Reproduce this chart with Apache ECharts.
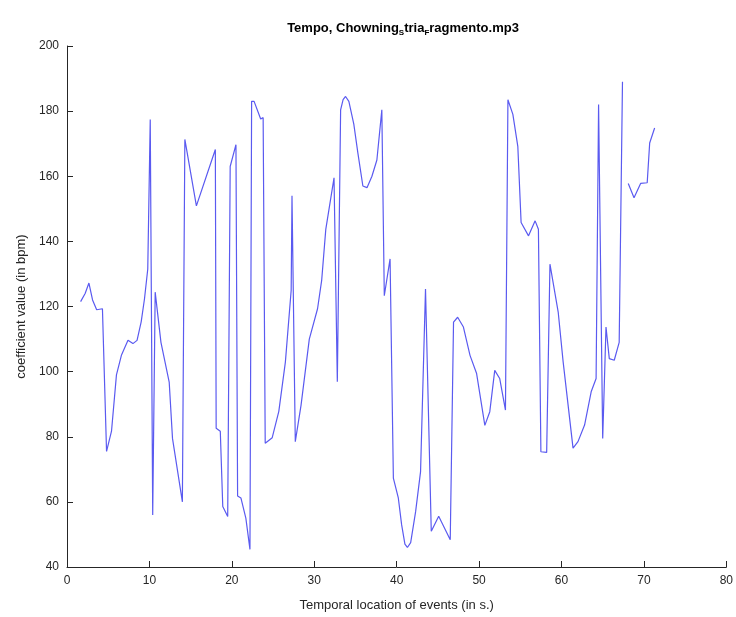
<!DOCTYPE html>
<html>
<head>
<meta charset="UTF-8">
<title>Tempo</title>
<style>
  html, body { margin: 0; padding: 0; background: #fff; }
  #main { width: 736px; height: 617px; }
</style>
</head>
<body>
<div id="main"></div>
<script src="https://cdn.jsdelivr.net/npm/echarts@6/dist/echarts.min.js"></script>
<script>
// event times (s) and tempo values (bpm); null = gap
var times = [1.65, 2.2, 2.66, 3.1, 3.6, 4.3, 4.8, 5.4, 6.0, 6.6, 7.4, 8.0, 8.5, 9.0, 9.4, 9.8, 10.1, 10.4, 10.7,
  11.4, 12.4, 12.8, 14.0, 14.3, 15.7, 18.0, 18.1, 18.6, 18.9, 19.5, 19.8, 20.5, 20.7, 21.1, 21.7, 22.2,
  22.4, 22.7, 23.5, 23.8, 24.05, 24.9, 25.7, 26.5, 27.2, 27.3, 27.7, 28.4, 29.4, 30.4, 30.9, 31.4, 32.4,
  32.8, 33.2, 33.5, 33.8, 34.2, 34.8, 35.3, 35.9, 36.4, 37.0, 37.6, 38.2, 38.5, 39.2, 39.6, 40.2, 40.6,
  41.0, 41.3, 41.7, 42.3, 42.9, 43.5, 44.2, 45.1, 46.5, 46.9, 47.4, 48.1, 48.9, 49.7, 50.7, 51.3, 51.9,
  52.5, 53.2, 53.5, 54.1, 54.7, 55.1, 56.0, 56.8, 57.2, 57.5, 58.2, 58.6, 59.6, 60.2, 61.4, 62.0, 62.8,
  63.6, 64.2, 64.5, 65.0, 65.4, 65.8, 66.4, 67.0, 67.4, 67.7, 68.1, 68.8, 69.6, 70.4, 70.7, 71.3];
var tempo = [121.5, 124, 127.2, 122, 119, 119.3, 75.5, 81.7, 99, 105, 109.6, 108.6, 109.6, 115.3, 122.3, 131.5, 177.4, 56, 124.4,
  109, 96.8, 79.5, 60, 171.3, 150.9, 168.2, 82.6, 81.7, 58.6, 55.5, 163, 169.7, 61.8, 61.2, 55, 45.4,
  183, 183, 177.6, 178, 78, 79.7, 87.8, 103, 125, 154, 78.5, 89.7, 110, 119.3, 128, 143.7, 159.5,
  96.9, 180.4, 183.5, 184.5, 183, 176, 167, 157, 156.5, 160, 165, 180.4, 123.3, 134.6, 67.3, 61.2, 53,
  47, 46, 47.5, 57, 69.3, 125.4, 51, 55.6, 48.4, 115.2, 116.7, 113.7, 105, 99.4, 83.5, 87.7, 100.4,
  97.9, 88.2, 183.5, 179, 169.2, 145.8, 141.7, 146.3, 143.7, 75.4, 75.2, 133, 118.3, 103, 76.5, 78.5, 83.6,
  93.8, 97.9, 182, 79.5, 113.7, 104, 103.5, 109, 189, null, 157.8, 153.4, 157.8, 158, 170.2, 174.8];
var xTicks = [0, 10, 20, 30, 40, 50, 60, 70, 80];
var yTicks = [40, 60, 80, 100, 120, 140, 160, 180, 200];

var points = times.map(function (t, i) {
  return [t, tempo[i] === null ? '-' : tempo[i]];
});

var chart = echarts.init(document.getElementById('main'));
var axisColor = '#262626';
chart.setOption({
  animation: false,
  backgroundColor: '#fff',
  title: {
    text: 'Tempo, Chowning{sub|S}tria{sub|F}ragmento.mp3',
    left: 398,
    textAlign: 'center',
    top: 14,
    textStyle: {
      fontFamily: 'Liberation Sans',
      fontSize: 13,
      fontWeight: 'bold',
      color: '#000',
      rich: {
        sub: { fontSize: 8, fontWeight: 'bold', color: '#000', padding: [10, 0, 0, 0] }
      }
    }
  },
  grid: { left: 67, right: 7, top: 46, bottom: 48 },
  xAxis: {
    type: 'value',
    min: xTicks[0],
    max: xTicks[xTicks.length - 1],
    interval: 10,
    name: 'Temporal location of events (in s.)',
    nameLocation: 'middle',
    nameGap: 32,
    nameTextStyle: { fontFamily: 'Liberation Sans', fontSize: 13, color: axisColor },
    axisLine: { lineStyle: { color: axisColor, width: 1 } },
    axisTick: { inside: true, length: 6, lineStyle: { color: axisColor } },
    axisLabel: { fontFamily: 'Liberation Sans', fontSize: 12, color: axisColor, margin: 8 },
    splitLine: { show: false }
  },
  yAxis: {
    type: 'value',
    min: yTicks[0],
    max: yTicks[yTicks.length - 1],
    interval: 20,
    name: 'coefficient value (in bpm)',
    nameLocation: 'middle',
    nameGap: 37,
    nameTextStyle: { fontFamily: 'Liberation Sans', fontSize: 13, color: axisColor },
    axisLine: { show: true, lineStyle: { color: axisColor, width: 1 } },
    axisTick: { show: true, inside: true, length: 6, lineStyle: { color: axisColor } },
    axisLabel: { fontFamily: 'Liberation Sans', fontSize: 12, color: axisColor, margin: 8 },
    splitLine: { show: false }
  },
  series: [{
    type: 'line',
    data: points,
    showSymbol: false,
    connectNulls: false,
    lineStyle: { color: '#5a5af0', width: 1.2 },
    itemStyle: { color: '#5a5af0' }
  }]
});
</script>
</body>
</html>
